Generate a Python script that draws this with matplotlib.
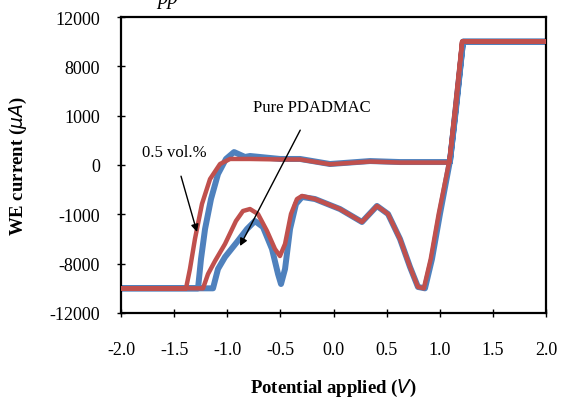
import matplotlib
matplotlib.use("Agg")
import matplotlib.pyplot as plt
from matplotlib.ticker import FixedLocator, FixedFormatter

plt.rcParams['font.family'] = ['Liberation Serif', 'DejaVu Serif']
plt.rcParams['axes.unicode_minus'] = False

# Pure PDADMAC (blue) – potential (V) and current (uA), traced as one loop
v_pure = [-2.0, -1.134, -1.087, -1.021, -0.908, -0.814, -0.739, -0.664, -0.579, -0.522,
          -0.494, -0.456, -0.409, -0.353, -0.296, -0.174, 0.061, 0.268, 0.409, 0.513,
          0.626, 0.720, 0.795, 0.861, 0.927, 1.002, 1.096, 1.153, 1.219, 2.0,
          1.219, 1.096, 0.626, 0.344, -0.033, -0.315, -0.504, -0.786, -0.833, -0.936,
          -1.012, -1.087, -1.153, -1.209, -1.247, -1.275, -2.0]
i_pure = [-10000, -10000, -8430, -7460, -6240, -5190, -4540, -5030, -6810, -8840,
          -9650, -8430, -5190, -3160, -2590, -2760, -3570, -4620, -3320, -3970,
          -6000, -8270, -9890, -10000, -7620, -3970, 320, 4540, 10000, 10000,
          10000, 240, 240, 320, 80, 490, 490, 730, 650, 1050,
          490, -730, -2760, -5190, -7620, -10000, -10000]

# 0.5 vol.% (red)
v_05 = [-2.0, -1.228, -1.181, -1.115, -1.021, -0.918, -0.852, -0.786, -0.711, -0.626,
        -0.551, -0.504, -0.456, -0.400, -0.344, -0.296, -0.174, 0.061, 0.268, 0.409,
        0.513, 0.626, 0.720, 0.795, 0.850, 0.915, 0.990, 1.090, 1.150, 1.210, 2.0,
        1.210, 1.090, 0.626, 0.344, -0.033, -0.315, -0.504, -0.786, -0.974, -1.068,
        -1.162, -1.238, -1.304, -1.351, -1.388, -2.0]
i_05 = [-10000, -10000, -8840, -7780, -6400, -4540, -3730, -3570, -3970, -5350,
        -6810, -7380, -6400, -3970, -2760, -2510, -2760, -3570, -4620, -3320,
        -3970, -6000, -8270, -9890, -10000, -7620, -3970, 320, 4540, 10000, 10000,
        10000, 200, 200, 280, 60, 450, 450, 490, 490, 80,
        -1140, -3160, -6000, -8430, -10000, -10000]

x_ticks = [-2.0, -1.5, -1.0, -0.5, 0.0, 0.5, 1.0, 1.5, 2.0]
x_labels = ["-2.0", "-1.5", "-1.0", "-0.5", "0.0", "0.5", "1.0", "1.5", "2.0"]
y_ticks = [-12000, -8000, -4000, 0, 4000, 8000, 12000]
y_labels = ["-12000", "-8000", "-1000", "0", "1000", "8000", "12000"]

fig = plt.figure(figsize=(5.61, 4.02), dpi=100)
ax = fig.add_axes([121/561, 1-314/402, (546-121)/561, (314-18)/402])

ax.plot(v_pure, i_pure, color='#4F81BD', lw=4.3, solid_joinstyle='round', zorder=2)
ax.plot(v_05, i_05, color='#C0504D', lw=3.2, solid_joinstyle='round', zorder=3)

ax.set_xlim(-2, 2)
ax.set_ylim(-12000, 12000)
ax.xaxis.set_major_locator(FixedLocator(x_ticks))
ax.xaxis.set_major_formatter(FixedFormatter(x_labels))
ax.yaxis.set_major_locator(FixedLocator(y_ticks))
ax.yaxis.set_major_formatter(FixedFormatter(y_labels))
ax.tick_params(direction='inout', length=6, width=1, labelsize=13, colors='black')
ax.tick_params(axis='x', pad=17)
ax.tick_params(axis='y', pad=12)
for s in ax.spines.values():
    s.set_linewidth(1.6)
    s.set_color('black')

ax.set_xlabel('Potential applied ($\\mathit{V}$)', fontsize=13.5, fontweight='bold')
ax.set_ylabel('WE current ($\\mathit{\\mu A}$)', fontsize=13.5, fontweight='bold')
ax.xaxis.label.set_va('center')
ax.xaxis.set_label_coords(0.5, (314-388)/296)
ax.yaxis.label.set_va('center')
ax.yaxis.set_label_coords((18-121)/425, 0.5)

ax.annotate('Pure PDADMAC', xy=(-0.88, -6570), xytext=(-0.2, 4700),
            ha='center', va='center', fontsize=12,
            arrowprops=dict(arrowstyle='-|>', color='black', lw=1, mutation_scale=11,
                            shrinkA=10, shrinkB=0))
ax.annotate('0.5 vol.%', xy=(-1.285, -5430), xytext=(-1.5, 1050),
            ha='center', va='center', fontsize=12,
            arrowprops=dict(arrowstyle='-|>', color='black', lw=1, mutation_scale=11,
                            shrinkA=10, shrinkB=0))

fig.text(157/561, 1-4/402, 'pp', fontsize=15, style='italic', va='baseline', ha='left')

fig.savefig('out.png', dpi=100)
